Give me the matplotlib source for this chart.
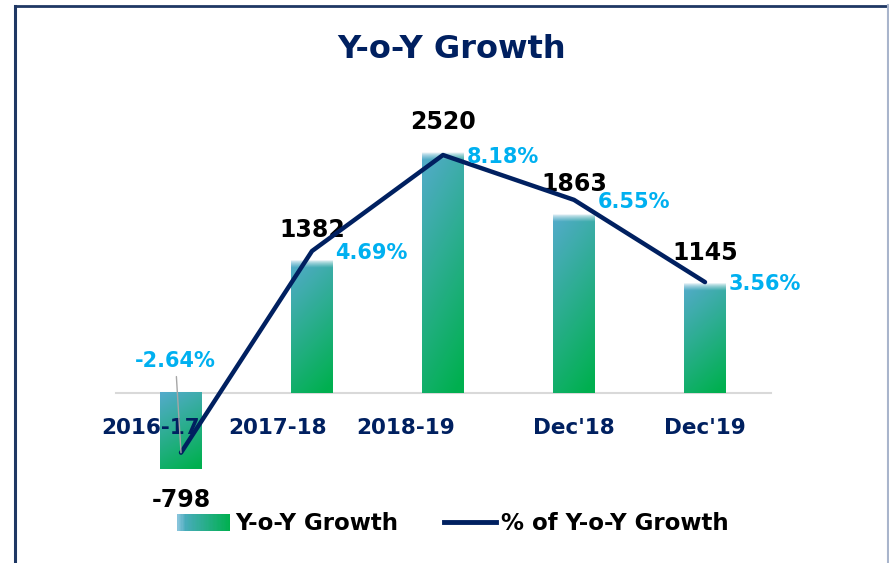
import matplotlib
matplotlib.use("Agg")
import matplotlib.pyplot as plt
import numpy as np
from matplotlib.lines import Line2D
from matplotlib.patches import Rectangle
from matplotlib.legend_handler import HandlerBase

plt.rcParams["font.weight"] = "bold"

categories = ["2016-17", "2017-18", "2018-19", "Dec'18", "Dec'19"]
growth = [-798, 1382, 2520, 1863, 1145]
growth_pct = [-2.64, 4.69, 8.18, 6.55, 3.56]

# horizontal nudge of category labels (points), as in the source chart
label_shift = [-22, -25, -27, 0, 0]

NAVY = "#002060"
PCT_BLUE = "#00b0f0"
C_TOP = np.array([0.33, 0.67, 0.80])
C_BOT = np.array([0.0, 0.69, 0.31])


def bar_gradient(fade):
    h, w = 200, 30
    v = np.linspace(0, 1, h)[:, None]
    u = np.linspace(0, 1, w)[None, :]
    t = np.clip(0.8 * v + 0.25 * u, 0, 1)[..., None]
    img = C_TOP * (1 - t) + C_BOT * t
    if fade > 0:
        a = np.clip(v / fade, 0, 1)[..., None] ** 0.7
        img = img * a + (1 - a) * np.array([0.95, 0.97, 0.98])
    return img


class HandlerGradient(HandlerBase):
    def create_artists(self, legend, orig_handle, xdescent, ydescent,
                       width, height, fontsize, trans):
        n = 40
        arts = []
        for k in range(n):
            t = k / (n - 1)
            c = C_TOP * (1 - t) + C_BOT * t
            if t < 0.15:
                c = c + (1 - c) * (0.15 - t) * 2
            arts.append(Rectangle((-xdescent + width * k / n, -ydescent),
                                  width / n * 1.1, height, fc=c, ec="none",
                                  transform=trans))
        return arts


fig = plt.figure(figsize=(8.89, 5.63), dpi=100)
ax = fig.add_axes([115.5 / 889, 63 / 563, 655 / 889, 400 / 563])
x = np.arange(len(categories))
width = 0.32

bars = ax.bar(x, growth, width, color="none", zorder=2)
for b, v in zip(bars, growth):
    x0, y0 = b.get_x(), b.get_y()
    bw, bh = b.get_width(), b.get_height()
    fade = min(0.3, 75 / abs(v)) if v > 0 else 0
    top, bot = max(y0, y0 + bh), min(y0, y0 + bh)
    ax.imshow(bar_gradient(fade), extent=[x0, x0 + bw, bot, top],
              aspect="auto", zorder=2, interpolation="bilinear")

for i, v in enumerate(growth):
    off = 22 if v > 0 else -22
    ax.annotate(str(v), (i, v), xytext=(0, off), textcoords="offset points",
                ha="center", va="center", fontsize=17, fontweight="bold",
                color="black", zorder=5)

# category labels just under the zero line
for i, cat in enumerate(categories):
    ax.annotate(cat, (i, 0), xytext=(label_shift[i], -25),
                textcoords="offset points", ha="center", va="center",
                fontsize=15.5, fontweight="bold", color=NAVY, zorder=4)

ax2 = ax.twinx()
ax2.plot(x, growth_pct, color=NAVY, lw=3.2, solid_capstyle="round", zorder=3)
ax2.set_ylim(-4.36, 10.18)
ax2.set_yticks([])
for s in ax2.spines.values():
    s.set_visible(False)

for i, p in enumerate(growth_pct):
    label = "{:.2f}%".format(p)
    if p < 0:
        ax2.annotate(label, (i, p), xytext=(-4, 66), textcoords="offset points",
                     ha="center", va="center", fontsize=15, fontweight="bold",
                     color=PCT_BLUE,
                     arrowprops=dict(arrowstyle="-", color="#a6a6a6", lw=1,
                                     shrinkA=2, shrinkB=0))
    else:
        ax2.annotate(label, (i, p), xytext=(17, -1.5), textcoords="offset points",
                     ha="left", va="center", fontsize=15, fontweight="bold",
                     color=PCT_BLUE)

ax.set_xlim(-0.5, 4.5)
ax.set_ylim(-1119, 3065)
ax.set_xticks([])
ax.set_yticks([])
for s in ["top", "left", "right"]:
    ax.spines[s].set_visible(False)
ax.spines["bottom"].set_position(("data", 0))
ax.spines["bottom"].set_color("#d9d9d9")
ax.spines["bottom"].set_linewidth(1.5)
ax.spines["bottom"].set_zorder(1)

fig.text(452 / 889, 1 - 50 / 563, "Y-o-Y Growth", ha="center", va="center",
         fontsize=23, fontweight="bold", color=NAVY)

handles = [Rectangle((0, 0), 1, 1), Line2D([], [], color=NAVY, lw=3.5)]
fig.legend(handles, ["Y-o-Y Growth", "% of Y-o-Y Growth"], loc="center",
           bbox_to_anchor=(453 / 889, 1 - 524 / 563), ncol=2, frameon=False,
           prop=dict(size=16.5, weight="bold"), handlelength=2.3,
           handletextpad=0.2, columnspacing=2.0,
           handler_map={Rectangle: HandlerGradient()})

# frame
fig.add_artist(Line2D([15 / 889, 15 / 889], [0, 1 - 5.5 / 563],
                      transform=fig.transFigure, color="#1f3864", lw=2.2))
fig.add_artist(Line2D([15 / 889, 1], [1 - 5.5 / 563, 1 - 5.5 / 563],
                      transform=fig.transFigure, color="#1f3864", lw=2))
fig.add_artist(Line2D([887.5 / 889, 887.5 / 889], [0, 1 - 5 / 563],
                      transform=fig.transFigure, color="#a9b5cc", lw=1.5))

fig.savefig("out.png", dpi=100)
